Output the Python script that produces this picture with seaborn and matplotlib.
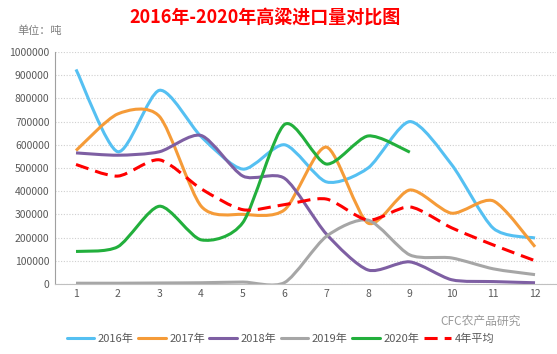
import matplotlib
matplotlib.use("Agg")
import matplotlib.pyplot as plt
import numpy as np
import pandas as pd
import seaborn as sns
from matplotlib.path import Path
from matplotlib.patches import PathPatch

# Monthly sorghum imports (tonnes)
months = list(range(1, 13))
imp_2016 = [925000, 570000, 835000, 635000, 495000, 600000, 440000, 500000, 700000, 515000, 240000, 198000]
imp_2017 = [575000, 733000, 722000, 335000, 300000, 320000, 590000, 262000, 405000, 305000, 358000, 160000]
imp_2018 = [565000, 555000, 570000, 640000, 465000, 455000, 215000, 60000, 95000, 18000, 10000, 5000]
imp_2019 = [3000, 3000, 4000, 5000, 8000, 6000, 205000, 275000, 125000, 112000, 65000, 40000]
imp_2020 = [140000, 160000, 335000, 190000, 265000, 688000, 517000, 638000, 568000]
avg_4yr = [515000, 465000, 535000, 410000, 320000, 342000, 366000, 275000, 332000, 242000, 168000, 100000]

series_names = ["2016年", "2017年", "2018年", "2019年", "2020年", "4年平均"]
series_vals = [imp_2016, imp_2017, imp_2018, imp_2019, imp_2020, avg_4yr]
colors = ["#55C0F2", "#F59B38", "#7E5FA3", "#A6A6A6", "#22AF3C", "#FF0000"]

rows = []
for name, vals in zip(series_names, series_vals):
    for m, v in zip(months, vals):
        rows.append({"月": m, "进口量": v, "年份": name})
df = pd.DataFrame(rows)

sns.set_style("white")
plt.rcParams["font.family"] = ["Noto Sans CJK SC", "DejaVu Sans"]

fig = plt.figure(figsize=(5.57, 3.54), dpi=100)
ax = fig.add_axes([0.099, 0.198, 0.899, 0.655])

palette = dict(zip(series_names, colors))
dash_style = (4.3, 2.3)
dashes = {n: "" for n in series_names}
dashes["4年平均"] = dash_style

sns.lineplot(data=df, x="月", y="进口量", hue="年份", style="年份",
             palette=palette, dashes=dashes, linewidth=2.2,
             hue_order=series_names, style_order=series_names, ax=ax)

# Excel-style smoothed curves: redraw each seaborn line as a Bezier path
TENSION = 0.13

def smooth_path(x, y):
    p = np.column_stack([x, y]).astype(float)
    n = len(p)
    verts = [p[0]]
    codes = [Path.MOVETO]
    for i in range(n - 1):
        p_prev = p[i - 1] if i > 0 else p[i]
        p_next2 = p[i + 2] if i + 2 < n else p[i + 1]
        c1 = p[i] + (p[i + 1] - p_prev) * TENSION
        c2 = p[i + 1] - (p_next2 - p[i]) * TENSION
        verts += [c1, c2, p[i + 1]]
        codes += [Path.CURVE4] * 3
    return Path(verts, codes)

for line in list(ax.lines):
    x, y = line.get_xdata(), line.get_ydata()
    if len(x) < 2:
        continue
    ls = line.get_linestyle()
    patch = PathPatch(smooth_path(x, y), facecolor="none",
                      edgecolor=line.get_color(), lw=2.2,
                      linestyle=(0, dash_style) if ls != "-" else "-",
                      capstyle="butt", joinstyle="round", zorder=line.get_zorder())
    ax.add_patch(patch)
    line.set_visible(False)

ax.set_xlim(0.5, 12.5)
ax.set_ylim(0, 1000000)
ax.set_xticks(months)
ax.set_yticks(range(0, 1000001, 100000))
ax.set_yticklabels([str(v) for v in range(0, 1000001, 100000)])
ax.tick_params(axis="both", labelsize=7.5, labelcolor="#595959", length=0, pad=4)
ax.set_xlabel("")
ax.set_ylabel("")
ax.yaxis.grid(True, linestyle=(0, (1, 1.5)), color="#CFCFCF", linewidth=0.8)
ax.xaxis.grid(False)
for side in ["top", "right"]:
    ax.spines[side].set_visible(False)
ax.spines["left"].set_color("#A0A0A0")
ax.spines["bottom"].set_color("#C0C0C0")
ax.spines["left"].set_linewidth(0.8)
ax.spines["bottom"].set_linewidth(0.8)

handles, labels = ax.get_legend_handles_labels()
ax.legend(handles, labels, loc="upper center", bbox_to_anchor=(0.45, -0.17),
          ncol=6, frameon=False, fontsize=8, handlelength=2.5,
          handletextpad=0.3, columnspacing=0.4, labelcolor="#595959")

fig.text(0.476, 0.95, "2016年-2020年高粱进口量对比图", ha="center", va="center",
         fontsize=13, fontweight="bold", color="#FF0000")
fig.text(0.032, 0.913, "单位：吨", ha="left", va="center", fontsize=8, color="#7F7F7F")
fig.text(0.935, 0.093, "CFC农产品研究", ha="right", va="center", fontsize=8.5, color="#9A9A9A")

fig.savefig("out.png", dpi=100)
